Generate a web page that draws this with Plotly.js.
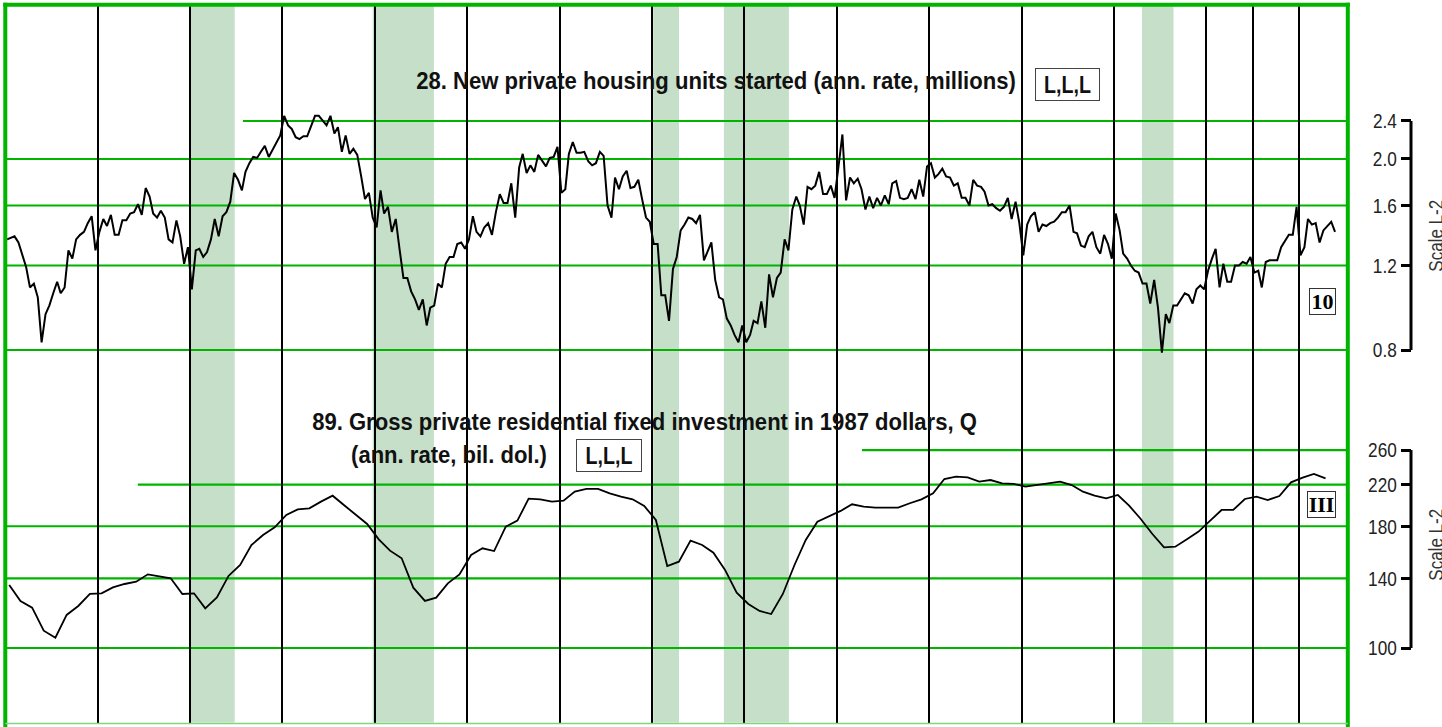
<!DOCTYPE html>
<html><head><meta charset="utf-8">
<script src="https://cdn.plot.ly/plotly-3.0.1.min.js"></script>
<style>html,body{margin:0;padding:0;background:#fff;overflow:hidden}#chart{width:1442px;height:727px}</style>
</head><body><div id="chart"></div>
<script>
// ---- data ----
const housingFirstYear = 1966;   // monthly series starts January 1966
const housingStarts = [
  1.36,1.37,1.38,1.34,1.27,1.19,1.08,1.10,1.03,0.83,0.95,0.99,
  1.05,1.11,1.05,1.08,1.29,1.24,1.36,1.39,1.41,1.47,1.52,1.29,
  1.41,1.50,1.45,1.53,1.39,1.39,1.49,1.49,1.54,1.55,1.61,1.53,
  1.74,1.67,1.54,1.51,1.56,1.51,1.36,1.34,1.49,1.38,1.21,1.31,
  1.07,1.29,1.30,1.25,1.28,1.36,1.50,1.38,1.52,1.55,1.63,1.87,
  1.81,1.72,1.88,1.96,2.02,2.01,2.07,2.13,2.02,2.09,2.15,2.24,
  2.46,2.35,2.31,2.22,2.20,2.23,2.23,2.35,2.46,2.46,2.40,2.35,
  2.46,2.26,2.33,2.07,2.24,2.05,2.10,2.04,1.84,1.65,1.70,1.51,
  1.44,1.72,1.54,1.59,1.41,1.50,1.30,1.13,1.13,1.06,1.02,0.97,
  1.02,0.90,0.98,0.99,1.10,1.08,1.21,1.25,1.25,1.33,1.34,1.30,
  1.36,1.52,1.41,1.38,1.44,1.47,1.39,1.55,1.69,1.62,1.62,1.78,
  1.51,1.92,2.05,1.87,1.94,1.88,2.04,1.99,1.93,2.01,2.02,2.12,
  1.70,1.73,2.05,2.17,2.06,2.06,2.07,1.98,1.94,1.96,2.07,2.03,
  1.60,1.51,1.83,1.73,1.84,1.89,1.74,1.75,1.81,1.65,1.51,1.48,
  1.33,1.33,1.04,1.04,0.92,1.18,1.25,1.42,1.46,1.51,1.50,1.47,
  1.53,1.23,1.28,1.34,1.12,1.03,1.02,0.93,0.90,0.86,0.83,0.90,
  0.83,0.86,0.92,0.91,1.01,0.89,1.15,1.03,1.13,1.16,1.36,1.29,
  1.57,1.67,1.60,1.46,1.75,1.73,1.76,1.88,1.69,1.69,1.76,1.66,
  1.93,2.25,1.64,1.83,1.78,1.82,1.73,1.57,1.67,1.58,1.66,1.60,
  1.68,1.61,1.78,1.80,1.66,1.65,1.66,1.73,1.65,1.81,1.67,1.93,
  1.96,1.83,1.86,1.91,1.84,1.83,1.76,1.78,1.66,1.66,1.60,1.81,
  1.76,1.75,1.71,1.60,1.61,1.58,1.56,1.59,1.66,1.50,1.63,1.47,
  1.26,1.46,1.52,1.55,1.41,1.46,1.45,1.47,1.48,1.51,1.55,1.55,
  1.60,1.41,1.40,1.32,1.31,1.38,1.41,1.31,1.27,1.39,1.33,1.24,
  1.54,1.42,1.27,1.24,1.20,1.17,1.16,1.10,1.10,1.00,1.12,0.98,
  0.79,0.95,0.91,0.99,0.99,1.02,1.05,1.04,1.00,1.07,1.09,1.07,
  1.17,1.24,1.30,1.08,1.21,1.11,1.11,1.20,1.20,1.22,1.21,1.25,
  1.16,1.17,1.08,1.22,1.23,1.23,1.23,1.31,1.35,1.39,1.39,1.59,
  1.26,1.31,1.50,1.46,1.47,1.34,1.42,1.45,1.48,1.41
];
const investmentFirstYear = 1966; // quarterly series starts 1966 Q1
const residentialInvestment = [
  135.6,125.5,121.5,108.7,
  105.1,117.3,122.5,129.8,
  130.2,134.0,136.2,137.7,
  142.7,141.6,140.0,129.8,
  130.2,121.1,127.7,141.6,
  149.3,164.4,172.5,179.1,
  190.1,195.3,196.2,202.7,
  208.6,199.4,190.7,182.0,
  169.0,160.0,154.2,133.8,
  125.5,127.5,136.6,142.7,
  156.7,161.8,159.7,179.6,
  184.9,205.6,205.0,202.7,
  203.6,212.7,215.5,215.5,
  211.0,207.6,205.0,198.5,
  185.5,148.5,151.7,167.9,
  164.4,158.4,145.8,130.6,
  123.7,119.6,117.8,129.8,
  149.3,168.5,184.0,188.5,
  193.8,200.1,197.8,196.9,
  196.9,196.9,201.1,205.0,
  211.0,226.1,228.7,227.9,
  223.2,225.0,221.4,220.8,
  217.9,219.6,220.8,223.2,
  219.6,212.7,208.6,205.9,
  209.3,198.8,186.4,173.4,
  162.6,163.1,169.0,175.4,
  184.9,194.7,194.7,205.3,
  207.6,204.3,208.3,222.5,
  227.6,231.7,226.8
];
const yearLines = ['1968','1970','1972','1974','1976','1978','1980','1982','1984','1986','1988','1990','1992','1993','1994'];
const recessionStart = ['1970-01-01','1973-12-15','1980-01-11','1981-07-23','1990-08-11'];
const recessionEnd   = ['1970-12-20','1975-04-13','1980-08-02','1982-12-19','1991-04-17'];
const housingTicks = [0.8, 1.2, 1.6, 2.0, 2.4];
const housingTickText = ['0.8','1.2','1.6','2.0','2.4'];
const investmentTicks = [100, 140, 180, 220, 260];
const investmentTickText = ['100','140','180','220','260'];

// ---- build dates ----
const pad = n => (n < 10 ? '0' : '') + n;
const housingDates = housingStarts.map((v, i) => {
  const y = housingFirstYear + Math.floor(i / 12), m = (i % 12) + 1;
  return y + '-' + pad(m) + '-15';
});
const investmentDates = residentialInvestment.map((v, i) => {
  const y = investmentFirstYear + Math.floor(i / 4), m = (i % 4) * 3 + 2;
  return y + '-' + pad(m) + '-01';
});

// ---- geometry ----
const W = 1442, H = 727;
const plotL = 5.3, plotR = 1347.8, plotT = 4.7, plotB = 722.5;
const xd0 = plotL / W, xd1 = plotR / W;
const yd0 = (H - plotB) / H, yd1 = (H - plotT) / H;
const xStart = '1966-01-01', xEnd = '1995-01-24';
const axisX = 1411 / W;
const px = v => v / W, py = v => 1 - v / H;

const GREEN = '#00b400';
const BAND = '#c5dfc8';
const sans = '"Liberation Sans", Arial, sans-serif';
const serif = '"Liberation Serif", "Times New Roman", serif';

const shapes = [];
recessionStart.forEach((s, i) => shapes.push({
  type: 'rect', layer: 'below', xref: 'x', yref: 'paper',
  x0: s, x1: recessionEnd[i], y0: yd0, y1: yd1,
  fillcolor: BAND, line: {width: 0}
}));
const hFrom = {0.8: xStart, 1.2: xStart, 1.6: xStart, 2.0: xStart, 2.4: '1971-02-23'};
housingTicks.forEach(v => shapes.push({
  type: 'line', layer: 'below', xref: 'x', yref: 'y',
  x0: hFrom[v], x1: xEnd, y0: v, y1: v, line: {color: GREEN, width: 2.2}
}));
const iFrom = {100: xStart, 140: xStart, 180: xStart, 220: '1968-11-14', 260: '1984-07-19'};
investmentTicks.forEach(v => shapes.push({
  type: 'line', layer: 'below', xref: 'x', yref: 'y2',
  x0: iFrom[v], x1: xEnd, y0: v, y1: v, line: {color: GREEN, width: 2.2}
}));
// scale brackets
shapes.push({type: 'line', layer: 'above', xref: 'paper', yref: 'y', x0: axisX, x1: axisX,
  y0: housingTicks[0], y1: housingTicks[housingTicks.length - 1], line: {color: '#000', width: 3}});
shapes.push({type: 'line', layer: 'above', xref: 'paper', yref: 'y2', x0: axisX, x1: axisX,
  y0: investmentTicks[0], y1: investmentTicks[investmentTicks.length - 1], line: {color: '#000', width: 3}});
// frame
shapes.push({type: 'line', layer: 'above', xref: 'paper', yref: 'paper', x0: xd0, x1: xd0, y0: 0, y1: yd1 + 2/H, line: {color: GREEN, width: 4}});
shapes.push({type: 'line', layer: 'above', xref: 'paper', yref: 'paper', x0: xd1, x1: xd1, y0: 0, y1: yd1 + 2/H, line: {color: GREEN, width: 4}});
shapes.push({type: 'line', layer: 'above', xref: 'paper', yref: 'paper', x0: xd0 - 2/W, x1: xd1 + 2/W, y0: yd1, y1: yd1, line: {color: GREEN, width: 4}});
shapes.push({type: 'line', layer: 'above', xref: 'paper', yref: 'paper', x0: xd0, x1: xd1, y0: py(723.5), y1: py(723.5), line: {color: '#7ed67e', width: 1.5}});

// condensed rendering: each annotation text is squeezed horizontally to the reference width
const annotations = [
  {text: '<b>28. New private housing units started (ann. rate, millions)</b>', xref: 'paper', yref: 'paper',
   x: px(414), y: py(80), xanchor: 'left', yanchor: 'middle', showarrow: false,
   font: {family: sans, size: 24, color: '#111'}},
  {text: '<b>L,L,L</b>', xref: 'paper', yref: 'paper', x: px(1067.5), y: py(84.4), xanchor: 'center', yanchor: 'middle',
   showarrow: false, width: 63, height: 31, borderpad: 0, borderwidth: 1, bordercolor: '#444', bgcolor: '#fff',
   font: {family: sans, size: 24, color: '#111'}},
  {text: '<b>89. Gross private residential fixed investment in 1987 dollars, Q</b>', xref: 'paper', yref: 'paper',
   x: px(310), y: py(421), xanchor: 'left', yanchor: 'middle', showarrow: false,
   font: {family: sans, size: 24, color: '#111'}},
  {text: '<b>(ann. rate, bil. dol.)</b>', xref: 'paper', yref: 'paper',
   x: px(349), y: py(454), xanchor: 'left', yanchor: 'middle', showarrow: false,
   font: {family: sans, size: 24, color: '#111'}},
  {text: '<b>L,L,L</b>', xref: 'paper', yref: 'paper', x: px(608.7), y: py(455.7), xanchor: 'center', yanchor: 'middle',
   showarrow: false, width: 64, height: 31, borderpad: 0, borderwidth: 1, bordercolor: '#444', bgcolor: '#fff',
   font: {family: sans, size: 24, color: '#111'}},
  {text: '<b>10</b>', xref: 'paper', yref: 'paper', x: px(1322.5), y: py(301.5), xanchor: 'center', yanchor: 'middle',
   showarrow: false, width: 25, height: 25, borderpad: 0, borderwidth: 1, bordercolor: '#333', bgcolor: '#fff',
   font: {family: serif, size: 22, color: '#000'}},
  {text: '<b>III</b>', xref: 'paper', yref: 'paper', x: px(1321.5), y: py(504.5), xanchor: 'center', yanchor: 'middle',
   showarrow: false, width: 27, height: 25, borderpad: 0, borderwidth: 1, bordercolor: '#333', bgcolor: '#fff',
   font: {family: serif, size: 22, color: '#000'}},
  {text: 'Scale L-2', xref: 'paper', yref: 'paper', x: px(1436), y: py(236), xanchor: 'center', yanchor: 'middle',
   textangle: -90, showarrow: false, font: {family: sans, size: 20, color: '#333'}},
  {text: 'Scale L-2', xref: 'paper', yref: 'paper', x: px(1436), y: py(545), xanchor: 'center', yanchor: 'middle',
   textangle: -90, showarrow: false, font: {family: sans, size: 20, color: '#333'}}
];
// target text widths (px) and squeeze origin for each annotation above
const squeezeFit = [
  {w: 600, o: 'left'}, {w: 47, o: 'center'}, {w: 665, o: 'left'}, {w: 196, o: 'left'},
  {w: 47, o: 'center'}, null, null, {w: 72, o: 'center'}, {w: 72, o: 'center'}
];

const traces = [
  {x: housingDates, y: housingStarts, type: 'scatter', mode: 'lines', xaxis: 'x', yaxis: 'y',
   line: {color: '#000', width: 2}, hoverinfo: 'skip'},
  {x: investmentDates, y: residentialInvestment, type: 'scatter', mode: 'lines', xaxis: 'x', yaxis: 'y2',
   line: {color: '#000', width: 1.8}, hoverinfo: 'skip'}
];

const tickFont = {family: sans, size: 21, color: '#222'};
const layout = {
  width: W, height: H, margin: {l: 0, r: 0, t: 0, b: 0, pad: 0},
  paper_bgcolor: '#fff', plot_bgcolor: '#fff', showlegend: false,
  xaxis: {type: 'date', domain: [xd0, xd1], range: [xStart, xEnd], showticklabels: false, ticks: '',
          tickmode: 'array', tickvals: yearLines, showgrid: true, gridcolor: '#000', gridwidth: 2,
          zeroline: false, showline: false, automargin: false, fixedrange: true},
  yaxis: {type: 'log', domain: [yd0, yd1], range: [-0.87295, 0.62247], anchor: 'free', position: axisX, side: 'left',
          tickmode: 'array', tickvals: housingTicks, ticktext: housingTickText, ticks: 'outside', ticklen: 10,
          tickwidth: 3, tickcolor: '#000', tickfont: tickFont, showgrid: false, zeroline: false, showline: false,
          automargin: false, fixedrange: true},
  yaxis2: {type: 'log', domain: [yd0, yd1], range: [1.84382, 3.34864], anchor: 'free', position: axisX, side: 'left',
          overlaying: 'y', tickmode: 'array', tickvals: investmentTicks, ticktext: investmentTickText, ticks: 'outside',
          ticklen: 10, tickwidth: 3, tickcolor: '#000', tickfont: tickFont, showgrid: false, zeroline: false,
          showline: false, automargin: false, fixedrange: true},
  shapes: shapes, annotations: annotations
};

function squeeze(el, s, origin) {
  const bb = el.getBBox();
  const ox = origin === 'left' ? bb.x : origin === 'right' ? bb.x + bb.width : bb.x + bb.width / 2;
  const prev = el.getAttribute('transform') || '';
  el.setAttribute('transform', prev + ' translate(' + ox + ',0) scale(' + s + ',1) translate(' + (-ox) + ',0)');
}

Plotly.newPlot('chart', traces, layout, {staticPlot: true, displayModeBar: false}).then(gd => {
  gd.querySelectorAll('.annotation').forEach(g => {
    const idx = +g.getAttribute('data-index');
    const cfg = squeezeFit[idx];
    if (!cfg) return;
    const t = g.querySelector('text.annotation-text');
    if (!t) return;
    const w = t.getBBox().width;
    if (w > 0) squeeze(t, Math.min(1, cfg.w / w), cfg.o);
  });
  gd.querySelectorAll('.ytick text, .y2tick text').forEach(t => squeeze(t, 0.82, 'right'));
});
</script>
</body></html>
